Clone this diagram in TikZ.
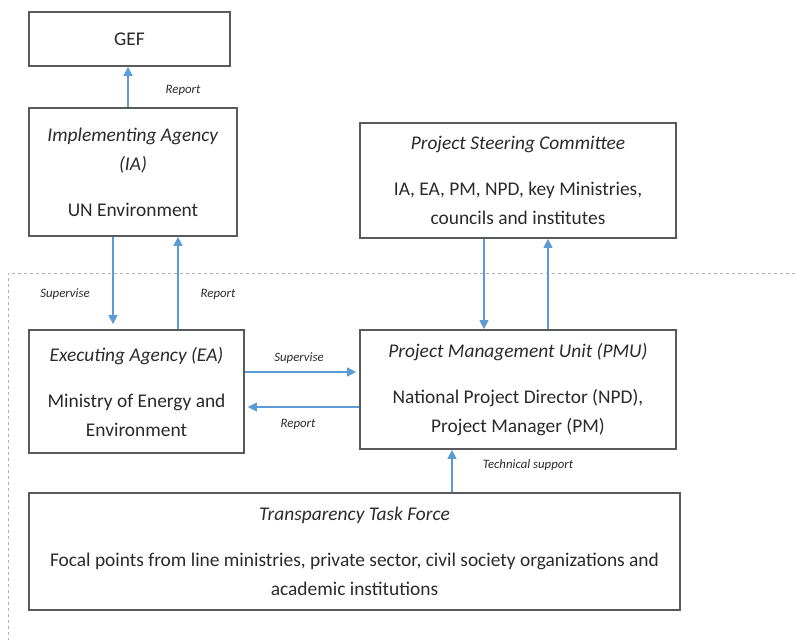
\documentclass[tikz,border=0pt]{standalone}
\usepackage{fontspec}
\setmainfont{Carlito}
\usetikzlibrary{arrows.meta}
\definecolor{arrblue}{HTML}{5B9BD5}
\definecolor{boxgray}{HTML}{5A5A5A}
\definecolor{txtgray}{HTML}{2A2A2A}
\tikzset{
  box/.style={draw=boxgray, line width=1.8pt, align=center, inner sep=0pt, text=txtgray,
    font=\fontsize{19.4}{29}\selectfont},
  arr/.style={draw=arrblue, line width=1.4pt, -{Triangle[length=9pt,width=9pt]}},
  lbl/.style={font=\fontsize{12.8}{14}\selectfont\itshape, text=txtgray, inner sep=0pt},
  frame/.style={draw=gray!60, dashed, line width=1pt}
}
\begin{document}
\begin{tikzpicture}[x=1pt,y=-1pt]
\useasboundingbox (0,0) rectangle (795,640);
\node[box, minimum width=201pt, minimum height=54pt] (gef) at (129.5,39) {GEF};
\node[box, minimum width=208pt, minimum height=128pt] (ia) at (133,172)
  {\textit{Implementing Agency}\\\textit{(IA)}\\[17pt]UN Environment};
\node[box, minimum width=316pt, minimum height=115pt] (psc) at (518,180.5)
  {\textit{Project Steering Committee}\\[17pt]IA, EA, PM, NPD, key Ministries,\\councils and institutes};
\node[box, minimum width=215pt, minimum height=123pt] (ea) at (136.5,391.5)
  {\textit{Executing Agency (EA)}\\[17pt]Ministry of Energy and\\Environment};
\node[box, minimum width=316pt, minimum height=119pt] (pmu) at (518,389.5)
  {\textit{Project Management Unit (PMU)}\\[17pt]National Project Director (NPD),\\Project Manager (PM)};
\node[box, minimum width=651pt, minimum height=117pt] (ttf) at (354.5,551.5)
  {\textit{Transparency Task Force}\\[17pt]Focal points from line ministries, private sector, civil society organizations and\\academic institutions};
% dashed frame
\coordinate (fr1) at (795,273);
\coordinate (fr2) at (8,273);
\coordinate (fr3) at (8,640);
\draw[frame] (fr1) -- (fr2) -- (fr3);
% x positions
\coordinate (xg) at (128,0);
\coordinate (xs) at (113,0);
\coordinate (xr) at (178,0);
\coordinate (xp1) at (484,0);
\coordinate (xp2) at (548,0);
\coordinate (xt) at (452,0);
\coordinate (ys) at (0,372);
\coordinate (yr) at (0,407);
% arrows
\draw[arr] (ia.north -| xg) -- (gef.south -| xg);
\draw[arr, shorten >=5pt] (ia.south -| xs) -- (ea.north -| xs);
\draw[arr] (ea.north -| xr) -- (ia.south -| xr);
\draw[arr] (psc.south -| xp1) -- (pmu.north -| xp1);
\draw[arr] (pmu.north -| xp2) -- (psc.south -| xp2);
\draw[arr, shorten >=3pt] (ea.east |- ys) -- (pmu.west |- ys);
\draw[arr, shorten >=3pt] (pmu.west |- yr) -- (ea.east |- yr);
\draw[arr] (ttf.north -| xt) -- (pmu.south -| xt);
% labels
\node[lbl] (l1) at (183,90) {Report};
\node[lbl] (l2) at (65,294) {Supervise};
\node[lbl] (l3) at (218,294) {Report};
\node[lbl] (l4) at (299,358) {Supervise};
\node[lbl] (l5) at (298,424) {Report};
\node[lbl] (l6) at (528,465) {Technical support};
\end{tikzpicture}
\end{document}
